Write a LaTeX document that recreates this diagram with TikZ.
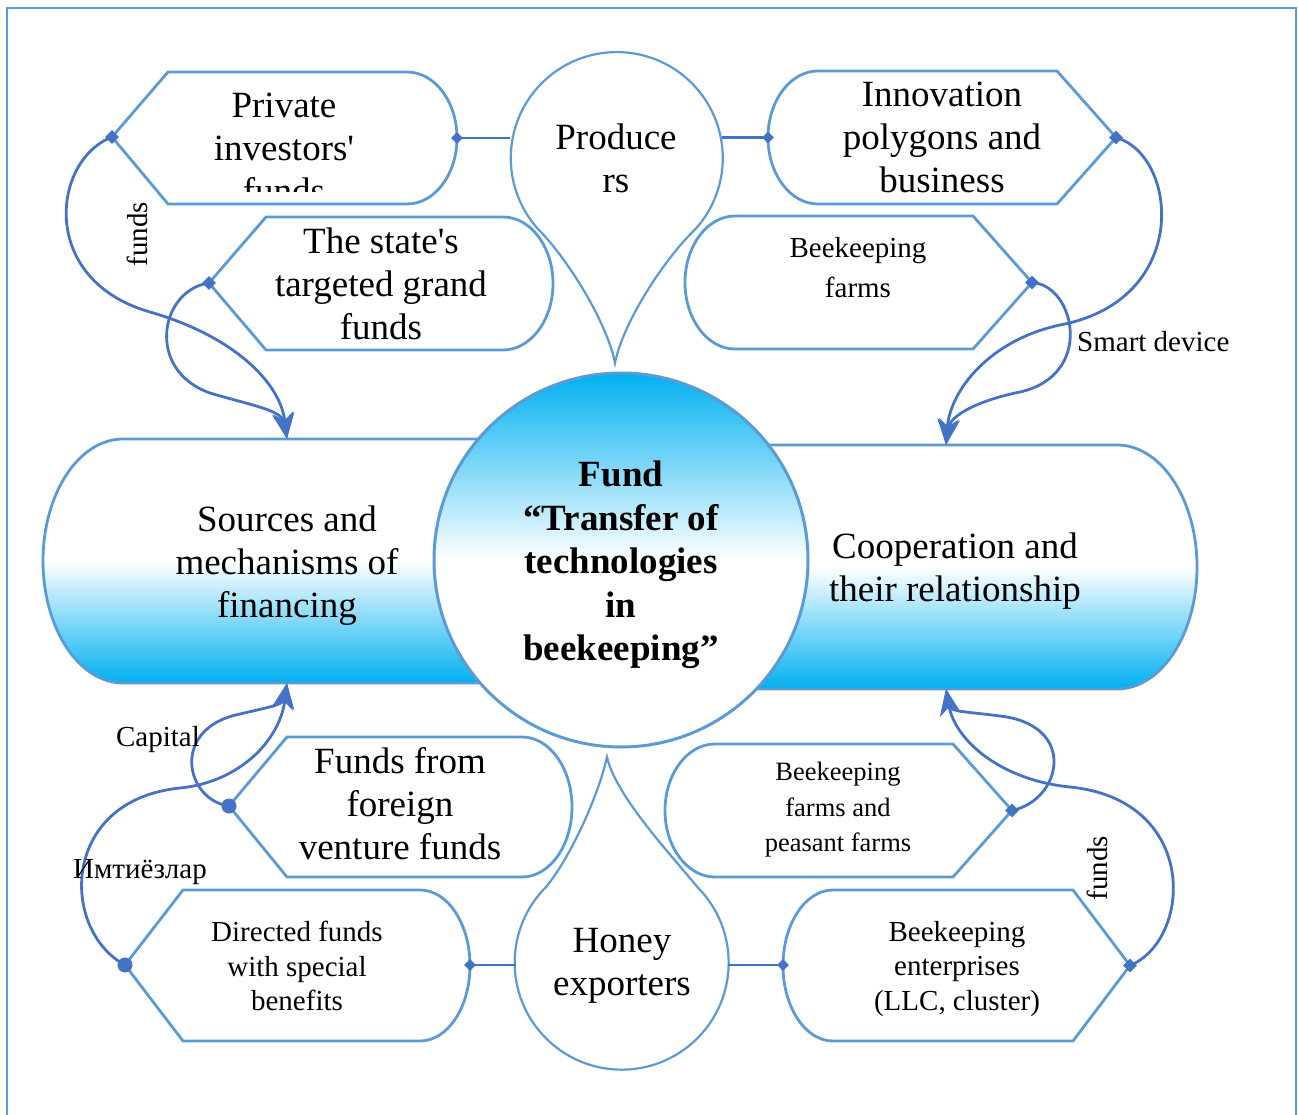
\documentclass[tikz,border=0pt]{standalone}
\usepackage{fontspec}
\setmainfont{Liberation Serif}[Ligatures=TeXOff]
\usetikzlibrary{arrows.meta,shapes.geometric}
\definecolor{boxc}{HTML}{5B9BD5}
\definecolor{connc}{HTML}{4472C4}
\definecolor{fillc}{HTML}{00B0F0}
\tikzset{
 outl/.style={draw=boxc, line width=2.8pt, line join=miter},
 boxline/.style={outl, fill=white},
 thinline/.style={draw=boxc, line width=2.2pt, fill=white},
 conn/.style={draw=connc, line width=2.8pt},
 arr/.style={conn, -{Stealth[length=26pt,width=21pt,inset=8pt]}},
 dmark/.style={diamond, fill=connc, minimum size=14pt, inner sep=0pt},
 cmark/.style={circle, fill=connc, minimum size=15pt, inner sep=0pt},
 bigtxt/.style={align=center, inner sep=0pt, font=\fontsize{37}{43}\selectfont},
 boldtxt/.style={align=center, inner sep=0pt, font=\fontsize{37}{43.5}\selectfont\bfseries},
 smalltxt/.style={align=center, inner sep=0pt, font=\fontsize{29}{34.5}\selectfont},
 lbl/.style={inner sep=0pt, font=\fontsize{29}{35}\selectfont},
 sideshade/.style={outl, top color=white, bottom color=fillc, middle color=white},
 circshade/.style={outl, line width=3pt, top color=fillc, bottom color=white, middle color=white},
}
\begin{document}
\begin{tikzpicture}[x=1pt,y=-1pt]
\useasboundingbox (0,0) rectangle (1298,1115);
% frame
\draw[draw=boxc, line width=2pt] (7,1140) -- (7,8) -- (1296,8) -- (1296,1140);
% big side shapes
\path[sideshade]
  (520,439) -- (123,439) arc[start angle=-90, end angle=-270, x radius=80, y radius=122] -- (520,683) -- cycle;
\path[sideshade]
  (720,445) -- (1117,445) arc[start angle=-90, end angle=90, x radius=80, y radius=122] -- (720,689) -- cycle;
% centre circle
\path[circshade] (621,560) circle[radius=187];
% producers pin
\draw[thinline] (615,363) .. controls (607,322) and (567,258) .. (538,229)
  arc[start angle=138, end angle=402, radius=106]
  .. controls (665,258) and (623,322) .. (615,363) -- cycle;
% honey drop
\draw[thinline] (607,757) .. controls (598,797) and (570,858) .. (546,887)
  arc[start angle=225, end angle=-45, radius=107]
  .. controls (674,858) and (616,797) .. (607,757) -- cycle;
% left-pointed boxes
\draw[boxline] (112,137) -- (168,72) -- (407,72) arc[start angle=-90, end angle=90, x radius=50, y radius=66] -- (168,204) -- cycle;
\draw[boxline] (209,283) -- (266,217) -- (503,217) arc[start angle=-90, end angle=90, x radius=50, y radius=66.5] -- (266,350) -- cycle;
\draw[boxline] (229,806) -- (287,737) -- (522,737) arc[start angle=-90, end angle=90, x radius=50, y radius=70] -- (287,877) -- cycle;
\draw[boxline] (125,965) -- (183,890) -- (420,890) arc[start angle=-90, end angle=90, x radius=50, y radius=75.5] -- (183,1041) -- cycle;
% right-pointed boxes
\draw[boxline] (818,204) arc[start angle=90, end angle=270, x radius=50, y radius=66.5] -- (1057,71) -- (1116,137.5) -- (1057,204) -- cycle;
\draw[boxline] (735,349) arc[start angle=90, end angle=270, x radius=50, y radius=66.5] -- (973,216) -- (1032,282.5) -- (973,349) -- cycle;
\draw[boxline] (715,877) arc[start angle=90, end angle=270, x radius=50, y radius=66.5] -- (953,744) -- (1012,810.5) -- (953,877) -- cycle;
\draw[boxline] (833,1041) arc[start angle=90, end angle=270, x radius=50, y radius=75.5] -- (1073,890) -- (1130,965.5) -- (1073,1041) -- cycle;
% named points
\coordinate (privP) at (112,137);
\coordinate (stateP) at (209,283);
\coordinate (innoP) at (1116,137.5);
\coordinate (bfarmP) at (1032,282.5);
\coordinate (forP) at (229,806);
\coordinate (dirP) at (125,965);
\coordinate (peasP) at (1012,810.5);
\coordinate (entP) at (1130,965.5);
\coordinate (privR) at (457,138);
\coordinate (prodL) at (510,138);
\coordinate (innoL) at (768,137.5);
\coordinate (prodR) at (722,137.5);
\coordinate (dirR) at (470,965);
\coordinate (honL) at (516,965);
\coordinate (honR) at (728,965);
\coordinate (entL) at (783,965);
\coordinate (srcT) at (287,439);
\coordinate (srcB) at (287,683);
\coordinate (coopT) at (946,445);
\coordinate (coopB) at (946,689);
% straight connectors
\draw[conn] (privR) -- (prodL);
\draw[conn] (innoL) -- (prodR);
\draw[conn] (dirR) -- (honL);
\draw[conn] (honR) -- (entL);
% curved connectors
\draw[arr] (privP) .. controls (52,160) and (38,280) .. (150,312) .. controls (230,335) and (280,380) .. (srcT);
\draw[arr] (stateP) .. controls (160,290) and (145,370) .. (210,393) .. controls (250,405) and (282,410) .. (srcT);
\draw[arr] (innoP) .. controls (1178,155) and (1192,300) .. (1060,325) .. controls (990,340) and (950,390) .. (coopT);
\draw[arr] (bfarmP) .. controls (1075,285) and (1095,375) .. (1020,392) .. controls (980,400) and (950,415) .. (coopT);
\draw[arr] (forP) .. controls (185,800) and (170,728) .. (240,714) .. controls (265,708) and (283,705) .. (srcB);
\draw[arr] (dirP) .. controls (60,930) and (60,800) .. (180,788) .. controls (240,782) and (280,740) .. (srcB);
\draw[arr] (peasP) .. controls (1062,800) and (1078,725) .. (1000,716) .. controls (970,712) and (950,712) .. (coopB);
\draw[arr] (entP) .. controls (1192,940) and (1200,800) .. (1070,787) .. controls (1000,780) and (955,740) .. (coopB);
% markers
\node[dmark] (m1) at (privP) {};
\node[dmark] (m2) at (stateP) {};
\node[dmark] (m3) at (innoP) {};
\node[dmark] (m4) at (bfarmP) {};
\node[cmark] (m5) at (forP) {};
\node[cmark] (m6) at (dirP) {};
\node[dmark] (m7) at (peasP) {};
\node[dmark] (m8) at (entP) {};
\node[dmark, minimum size=12pt] (m9) at (privR) {};
\node[dmark, minimum size=12pt] (m10) at (innoL) {};
\node[dmark, minimum size=12pt] (m11) at (dirR) {};
\node[dmark, minimum size=12pt] (m12) at (entL) {};
% texts
\begin{scope}
\clip (150,60) rectangle (470,192);
\node[bigtxt] (priv) at (284,148) {Private\\investors'\\funds};
\end{scope}
\node[bigtxt] (state) at (381,284) {The state's\\targeted grand\\funds};
\node[bigtxt] (inno) at (942,137) {Innovation\\polygons and\\business};
\node[smalltxt, font=\fontsize{29}{40}\selectfont] (bfarm) at (858,268) {Beekeeping\\farms};
\node[bigtxt] (prod) at (616,158) {Produce\\rs};
\node[bigtxt] (src) at (287,566) {Sources and\\mechanisms of\\financing};
\node[bigtxt] (coop) at (955,571) {Cooperation and\\their relationship};
\node[boldtxt] (fund) at (621,565) {Fund\\“Transfer of\\technologies\\in\\beekeeping”};
\node[bigtxt] (foreign) at (400,804) {Funds from\\foreign\\venture funds};
\node[smalltxt, font=\fontsize{26.5}{35.5}\selectfont] (peas) at (838,810) {Beekeeping\\farms and\\peasant farms};
\node[smalltxt] (dir) at (297,966) {Directed funds\\with special\\benefits};
\node[smalltxt] (ent) at (957,969) {Beekeeping\\enterprises\\(LLC, cluster)};
\node[bigtxt] (honey) at (622,966) {Honey\\exporters};
% labels
\node[lbl, rotate=90] (lf1) at (137,234) {funds};
\node[lbl, rotate=90] (lf2) at (1097,868) {funds};
\node[lbl, anchor=west] (smart) at (1077,342) {Smart device};
\node[lbl] (cap) at (158,740) {Capital};
\node[lbl] (imt) at (140,872) {Имтиёзлар};
\end{tikzpicture}
\end{document}
